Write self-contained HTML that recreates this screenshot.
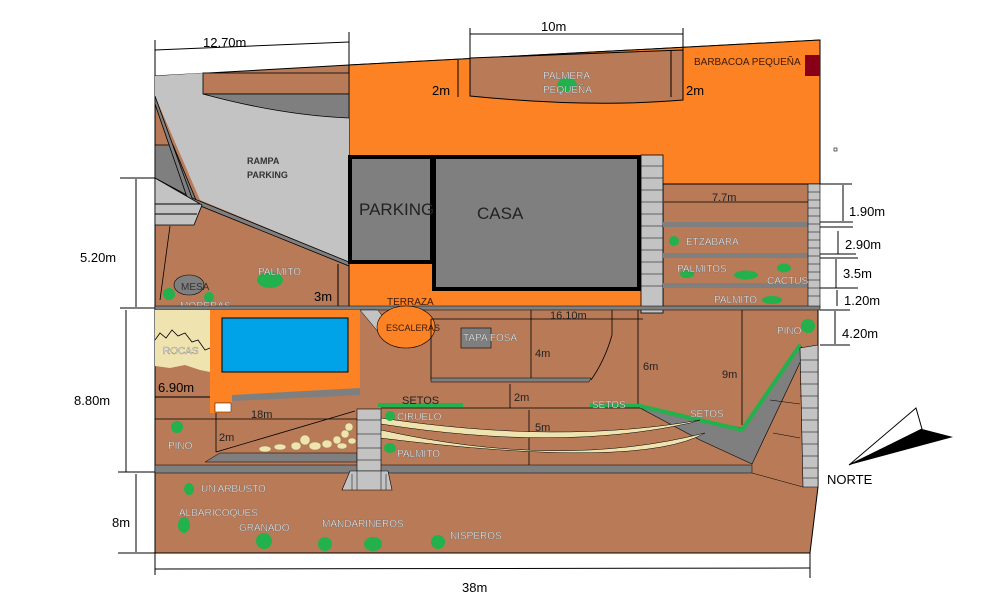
<!DOCTYPE html>
<html><head><meta charset="utf-8"><style>
html,body{margin:0;padding:0;background:#fff;}
svg{display:block;font-family:"Liberation Sans",sans-serif;}
.w{fill:#fff;font-size:10px;stroke:#555;stroke-width:0.3px}
.d{fill:#000;font-size:13px}
</style></head><body>
<svg width="1003" height="600" viewBox="0 0 1003 600" xmlns="http://www.w3.org/2000/svg">
<polygon points="155,76 349,65 820,40 820,184 810,184 810,308 818,308 818,487 810,553 155,553" fill="#b87a57" stroke="#000" stroke-width="1"/>
<polygon points="349,65 820,40 820,184 663,184 663,308 349,308" fill="#fd8224" stroke="#000" stroke-width="1"/>
<path d="M470,58 L683,50 L683,100 Q590,108 470,96 Z" fill="#b87a57" stroke="#000" stroke-width="1"/>
<line x1="458" y1="60" x2="458" y2="97" stroke="#000"/><line x1="470" y1="58" x2="470" y2="96" stroke="#000"/>
<line x1="671" y1="51" x2="671" y2="97" stroke="#000"/><line x1="683" y1="50" x2="683" y2="98" stroke="#000"/>
<ellipse cx="567" cy="85" rx="10" ry="7" fill="#22b14c"/>
<text x="543" y="79" class="w">PALMERA</text><text x="543" y="93" class="w">PEQUEÑA</text>
<rect x="805" y="55" width="15" height="21" fill="#880015"/>
<text x="694" y="65" font-size="10" fill="#3a1a0a">BARBACOA PEQUEÑA</text>
<polygon points="155,76 203,73 203,94 349,94 349,262 200,200 155,96" fill="#c3c3c3"/>
<rect x="203" y="73" width="146" height="21" fill="#b87a57" stroke="#000" stroke-width="0.8"/>
<path d="M203,94 L349,94 L349,118 Q280,115 203,94 Z" fill="#7f7f7f" stroke="#000" stroke-width="0.8"/>
<polygon points="155,145 173,145 196,200 155,178" fill="#7f7f7f" stroke="#000" stroke-width="0.8"/>
<polygon points="155,96 192,198 349,262 349,266 198,205 188,200 155,104" fill="#7f7f7f" stroke="#000" stroke-width="0.8"/>
<polygon points="155,178 202,205 194,225 155,225" fill="#c3c3c3" stroke="#000" stroke-width="0.8"/>
<line x1="155" y1="204" x2="200" y2="204" stroke="#000"/><line x1="155" y1="214" x2="197" y2="214" stroke="#000"/>
<line x1="170" y1="226" x2="160" y2="300" stroke="#000" stroke-width="0.8"/>
<text x="247" y="164" font-size="9" font-weight="bold" fill="#333">RAMPA</text>
<text x="247" y="178" font-size="9" font-weight="bold" fill="#333">PARKING</text>
<ellipse cx="189" cy="285" rx="15" ry="10" fill="#7f7f7f" stroke="#000" stroke-width="0.6"/>
<text x="181" y="290" font-size="10" fill="#333">MESA</text>
<circle cx="169" cy="294" r="6" fill="#22b14c"/><circle cx="209" cy="297" r="5" fill="#22b14c"/>
<text x="180" y="309" class="w" font-size="9">MORERAS</text>
<ellipse cx="270" cy="280" rx="13" ry="8" fill="#22b14c"/>
<text x="258" y="275" class="w">PALMITO</text>
<line x1="338" y1="264" x2="338" y2="306" stroke="#000"/>
<text x="314" y="301" class="d" font-size="15">3m</text>
<rect x="350" y="157" width="82" height="105" fill="#7f7f7f" stroke="#000" stroke-width="4"/>
<rect x="434" y="157" width="205" height="132" fill="#7f7f7f" stroke="#000" stroke-width="4"/>
<text x="359" y="215" font-size="17" fill="#222">PARKING</text>
<text x="477" y="219" font-size="17" fill="#222">CASA</text>
<rect x="641" y="155" width="22" height="158" fill="#c3c3c3" stroke="#000" stroke-width="0.8"/>
<g stroke="#000" stroke-width="0.6">
<line x1="641" y1="166" x2="663" y2="166"/><line x1="641" y1="178" x2="663" y2="178"/><line x1="641" y1="190" x2="663" y2="190"/><line x1="641" y1="202" x2="663" y2="202"/><line x1="641" y1="214" x2="663" y2="214"/><line x1="641" y1="226" x2="663" y2="226"/><line x1="641" y1="238" x2="663" y2="238"/><line x1="641" y1="250" x2="663" y2="250"/><line x1="641" y1="262" x2="663" y2="262"/><line x1="641" y1="274" x2="663" y2="274"/><line x1="641" y1="286" x2="663" y2="286"/>
</g>
<rect x="663" y="222" width="145" height="5" fill="#7f7f7f"/>
<rect x="663" y="253" width="145" height="5" fill="#7f7f7f"/>
<rect x="663" y="283" width="145" height="5" fill="#7f7f7f"/>
<rect x="808" y="184" width="12" height="124" fill="#c3c3c3" stroke="#000" stroke-width="0.6"/>
<g stroke="#000" stroke-width="0.5">
<line x1="808" y1="192" x2="820" y2="192"/><line x1="808" y1="200" x2="820" y2="200"/><line x1="808" y1="208" x2="820" y2="208"/><line x1="808" y1="216" x2="820" y2="216"/><line x1="808" y1="224" x2="820" y2="224"/><line x1="808" y1="232" x2="820" y2="232"/><line x1="808" y1="240" x2="820" y2="240"/><line x1="808" y1="248" x2="820" y2="248"/><line x1="808" y1="256" x2="820" y2="256"/><line x1="808" y1="264" x2="820" y2="264"/><line x1="808" y1="272" x2="820" y2="272"/><line x1="808" y1="280" x2="820" y2="280"/><line x1="808" y1="288" x2="820" y2="288"/><line x1="808" y1="296" x2="820" y2="296"/>
</g>
<line x1="664" y1="202" x2="808" y2="202" stroke="#000" stroke-width="0.8"/>
<text x="712" y="201" font-size="11" fill="#222">7.7m</text>
<circle cx="674" cy="241" r="5" fill="#22b14c"/><text x="686" y="245" class="w">ETZABARA</text>
<ellipse cx="687" cy="274" rx="7" ry="4" fill="#22b14c"/><ellipse cx="746" cy="275" rx="12" ry="4.5" fill="#22b14c"/><ellipse cx="784" cy="268" rx="7" ry="4.5" fill="#22b14c"/>
<text x="677" y="272" class="w">PALMITOS</text><text x="767" y="284" class="w" font-size="9">CACTUS</text>
<ellipse cx="772" cy="300" rx="10" ry="4" fill="#22b14c"/><text x="714" y="303" class="w">PALMITO</text>
<g stroke="#000" stroke-width="1">
<line x1="820" y1="184" x2="852" y2="184"/><line x1="820" y1="222" x2="853" y2="222"/><line x1="820" y1="227" x2="853" y2="227"/><line x1="820" y1="254" x2="856" y2="254"/><line x1="820" y1="258" x2="858" y2="258"/><line x1="820" y1="288" x2="858" y2="288"/><line x1="820" y1="310" x2="850" y2="310"/><line x1="820" y1="345" x2="850" y2="345"/>
<line x1="843" y1="185" x2="843" y2="221"/><line x1="838" y1="231" x2="838" y2="254"/><line x1="836" y1="259" x2="836" y2="288"/><line x1="837" y1="290" x2="837" y2="306"/><line x1="835" y1="311" x2="835" y2="344"/>
</g>
<text x="849" y="216" class="d" font-size="15">1.90m</text>
<text x="845" y="249" class="d" font-size="15">2.90m</text>
<text x="843" y="278" class="d" font-size="15">3.5m</text>
<text x="844" y="305" class="d" font-size="9">1.20m</text>
<text x="842" y="338" class="d" font-size="10">4.20m</text>
<rect x="155" y="306" width="665" height="4" fill="#7f7f7f" stroke="#000" stroke-width="0.5"/>
<text x="387" y="305" font-size="10" fill="#3a1a0a">TERRAZA</text>
<path d="M155,310 L210,310 L210,372 L200,370 L185,365 L170,368 L155,366 Z" fill="#efe4b0"/>
<path d="M155,340 L160,333 L166,338 L172,330 L178,336 L185,333 L192,342 L198,340 L205,350 L210,348" fill="none" stroke="#000" stroke-width="0.8"/>
<text x="163" y="354" class="w" font-size="9">ROCAS</text>
<rect x="210" y="310" width="150" height="85" fill="#fd8224"/>
<rect x="210" y="395" width="22" height="18" fill="#fd8224"/>
<rect x="222" y="318" width="126" height="54" fill="#00a2e8" stroke="#000" stroke-width="1"/>
<rect x="215" y="403" width="16" height="9" fill="#fff" stroke="#000" stroke-width="0.5"/>
<polygon points="232,395 360,388 360,395 232,401" fill="#7f7f7f"/>
<text x="158" y="392" class="d" font-size="15">6.90m</text>
<line x1="155" y1="397" x2="210" y2="397" stroke="#000"/>
<polygon points="360,310 378,310 393,332 385,340" fill="#c3c3c3" stroke="#000" stroke-width="0.5"/>
<ellipse cx="406" cy="327" rx="29" ry="21" fill="#fd8224" stroke="#000" stroke-width="0.6"/>
<text x="386" y="331" font-size="9" fill="#3a1a0a">ESCALERAS</text>
<rect x="461" y="328" width="30" height="20" fill="#7f7f7f" stroke="#000" stroke-width="0.6"/>
<text x="463" y="341" class="w" font-size="9">TAPA FOSA</text>
<g stroke="#000" stroke-width="0.8" fill="none">
<line x1="431" y1="319" x2="643" y2="319"/>
<line x1="431" y1="319" x2="431" y2="380"/>
<path d="M612,310 L612,335 Q605,360 591,380"/>
<line x1="531" y1="310" x2="531" y2="379"/>
<line x1="510" y1="384" x2="510" y2="408"/>
<line x1="638" y1="310" x2="638" y2="405"/>
<line x1="742" y1="310" x2="742" y2="425"/>
<line x1="529" y1="410" x2="529" y2="465"/>
</g>
<polygon points="431,378 591,378 589,382 431,382" fill="#7f7f7f" stroke="#000" stroke-width="0.5"/>
<text x="550" y="319" font-size="11" fill="#222">16.10m</text>
<text x="535" y="357" font-size="11" fill="#222">4m</text>
<text x="643" y="370" font-size="11" fill="#222">6m</text>
<text x="722" y="378" font-size="11" fill="#222">9m</text>
<text x="514" y="401" font-size="11" fill="#222">2m</text>
<text x="535" y="431" font-size="11" fill="#222">5m</text>
<polygon points="640,408 742,428 800,345 805,352 752,464 700,440" fill="#7f7f7f" stroke="#000" stroke-width="0.6"/>
<polyline points="590,405 640,406 742,430 800,345" fill="none" stroke="#22b14c" stroke-width="4"/>
<line x1="378" y1="405" x2="463" y2="405" stroke="#22b14c" stroke-width="4"/>
<line x1="381" y1="408" x2="640" y2="408" stroke="#000" stroke-width="0.8"/>
<text x="402" y="404" font-size="11" fill="#222">SETOS</text>
<text x="592" y="408" class="w" font-size="12">SETOS</text>
<text x="690" y="417" class="w" font-size="9">SETOS</text>
<circle cx="808" cy="326" r="7" fill="#22b14c"/><text x="777" y="334" class="w">PINO</text>
<path d="M381,418 Q560,445 700,420 L690,423 Q560,452 381,424 Z" fill="#efe4b0" stroke="#000" stroke-width="0.5"/>
<path d="M381,430 Q560,470 705,433 Q640,470 380,438 Z" fill="#efe4b0" stroke="#000" stroke-width="0.5"/>
<polygon points="800,348 818,345 818,487 803,487" fill="#c3c3c3" stroke="#000" stroke-width="0.6"/>
<g stroke="#000" stroke-width="0.5">
<line x1="800" y1="360" x2="818" y2="360"/><line x1="800" y1="372" x2="818" y2="372"/><line x1="800" y1="384" x2="818" y2="384"/><line x1="800" y1="396" x2="818" y2="396"/><line x1="801" y1="408" x2="818" y2="408"/><line x1="801" y1="420" x2="818" y2="420"/><line x1="802" y1="432" x2="818" y2="432"/><line x1="802" y1="444" x2="818" y2="444"/><line x1="802" y1="456" x2="818" y2="456"/><line x1="803" y1="468" x2="818" y2="468"/><line x1="803" y1="478" x2="818" y2="478"/>
<line x1="752" y1="473" x2="803" y2="487"/><line x1="770" y1="400" x2="800" y2="404"/><line x1="773" y1="433" x2="800" y2="438"/>
</g>
<rect x="155" y="465" width="597" height="8" fill="#7f7f7f" stroke="#000" stroke-width="0.5"/>
<line x1="155" y1="419" x2="360" y2="419" stroke="#000" stroke-width="0.8"/>
<line x1="216" y1="413" x2="216" y2="452" stroke="#000" stroke-width="0.8"/>
<line x1="216" y1="452" x2="355" y2="411" stroke="#000" stroke-width="0.8"/>
<polygon points="220,453 357,453 357,462 205,462" fill="#7f7f7f" stroke="#000" stroke-width="0.5"/>
<g fill="#efe4b0" stroke="#8a7a50" stroke-width="0.4">
<ellipse cx="265" cy="449" rx="6" ry="3"/><ellipse cx="280" cy="447" rx="6" ry="3"/><ellipse cx="296" cy="446" rx="5" ry="4"/><ellipse cx="305" cy="440" rx="5" ry="5"/><ellipse cx="315" cy="446" rx="6" ry="4"/><ellipse cx="327" cy="444" rx="5" ry="4"/><ellipse cx="337" cy="440" rx="4" ry="4"/><ellipse cx="345" cy="434" rx="4" ry="4"/><ellipse cx="342" cy="446" rx="5" ry="3"/><ellipse cx="349" cy="427" rx="4" ry="4"/><ellipse cx="352" cy="441" rx="4" ry="3"/>
</g>
<text x="251" y="418" font-size="11" fill="#222">18m</text>
<text x="219" y="441" font-size="11" fill="#222">2m</text>
<circle cx="177" cy="427" r="6" fill="#22b14c"/><text x="168" y="449" class="w">PINO</text>
<rect x="357" y="409" width="24" height="62" fill="#c3c3c3" stroke="#000" stroke-width="0.6"/>
<g stroke="#000" stroke-width="0.5"><line x1="357" y1="420" x2="381" y2="420"/><line x1="357" y1="434" x2="381" y2="434"/><line x1="357" y1="448" x2="381" y2="448"/><line x1="357" y1="460" x2="381" y2="460"/></g>
<polygon points="350,471 388,471 392,490 342,490" fill="#c3c3c3" stroke="#000" stroke-width="0.6"/>
<g stroke="#000" stroke-width="0.5"><line x1="357" y1="471" x2="357" y2="490"/><line x1="381" y1="471" x2="381" y2="490"/><line x1="352" y1="474" x2="352" y2="490"/><line x1="386" y1="474" x2="386" y2="490"/></g>
<circle cx="390" cy="416" r="5" fill="#22b14c"/><text x="397" y="420" class="w">CIRUELO</text>
<ellipse cx="390" cy="448" rx="6" ry="5" fill="#22b14c"/><text x="397" y="457" class="w">PALMITO</text>
<ellipse cx="189" cy="489" rx="5" ry="6" fill="#22b14c"/><text x="201" y="492" class="w">UN ARBUSTO</text>
<text x="179" y="516" class="w">ALBARICOQUES</text><ellipse cx="184" cy="525" rx="6" ry="8" fill="#22b14c"/>
<text x="239" y="531" class="w">GRANADO</text><circle cx="264" cy="541" r="8" fill="#22b14c"/>
<text x="322" y="527" class="w">MANDARINEROS</text><ellipse cx="325" cy="544" rx="7" ry="7" fill="#22b14c"/><ellipse cx="373" cy="544" rx="9" ry="7" fill="#22b14c"/>
<circle cx="438" cy="542" r="7" fill="#22b14c"/><text x="450" y="539" class="w">NISPEROS</text>
<g stroke="#000" stroke-width="1">
<line x1="120" y1="178" x2="155" y2="178"/><line x1="136" y1="179" x2="136" y2="307"/><line x1="120" y1="308" x2="155" y2="308"/>
<line x1="126" y1="310" x2="126" y2="472"/><line x1="118" y1="472" x2="155" y2="472"/>
<line x1="136" y1="474" x2="136" y2="552"/><line x1="118" y1="553" x2="155" y2="553"/>
<line x1="155" y1="40" x2="155" y2="76"/><line x1="349" y1="32" x2="349" y2="65"/>
<line x1="155" y1="50" x2="349" y2="42"/>
<line x1="470" y1="28" x2="470" y2="60"/><line x1="683" y1="28" x2="683" y2="50"/>
<line x1="470" y1="34" x2="683" y2="34"/>
<line x1="155" y1="553" x2="155" y2="575"/><line x1="810" y1="553" x2="810" y2="578"/>
<line x1="155" y1="569" x2="810" y2="568"/>
</g>
<text x="203" y="47" class="d" font-size="16">12.70m</text>
<text x="541" y="31" class="d" font-size="16">10m</text>
<text x="432" y="95" class="d" font-size="16">2m</text>
<text x="686" y="95" class="d" font-size="16">2m</text>
<text x="80" y="262" class="d" font-size="16">5.20m</text>
<text x="74" y="405" class="d" font-size="16">8.80m</text>
<text x="112" y="527" class="d" font-size="16">8m</text>
<text x="462" y="592" class="d" font-size="16">38m</text>
<polygon points="849,465 916,408 922,429" fill="#fff" stroke="#000" stroke-width="1"/>
<polygon points="849,465 922,429 953,437" fill="#000"/>
<text x="827" y="484" class="d" font-size="15">NORTE</text>
<rect x="834" y="148" width="3" height="3" fill="none" stroke="#000" stroke-width="0.6"/>
</svg>
</body></html>
